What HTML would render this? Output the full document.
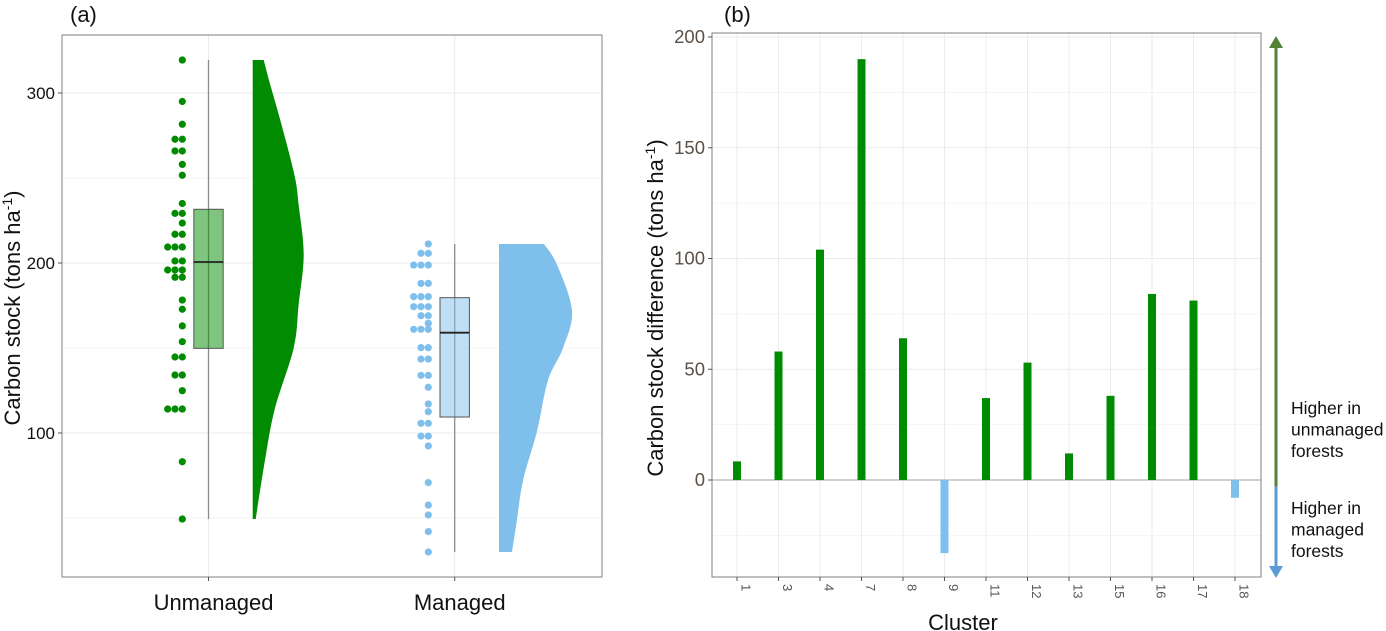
<!DOCTYPE html>
<html><head><meta charset="utf-8"><style>
body{margin:0;background:#fff;}
svg{display:block;font-family:"Liberation Sans",Arial,sans-serif;}
</style></head><body>
<svg id="c" width="1386" height="631" viewBox="0 0 1386 631"></svg>
<script>
// ---------- Panel (a) data ----------
const catsA = ["Unmanaged","Managed"];
const greenDotVals = [319.4,295,281.6,272.8,265.9,258,251.6,235,229.2,223.5,216.9,209.4,201.2,195.9,191.6,178.2,172.8,163,153.7,144.7,134.1,124.9,114.1,83.1,49.4];
const greenDotCounts = [1,1,1,2,2,1,1,1,2,1,2,3,2,3,2,1,1,1,1,2,2,1,3,1,1];
const blueDotVals = [211.2,205.7,198.8,188,180.2,174.3,169,164.5,161,150.2,143.5,133.9,126.9,117.1,112.5,105.7,98.2,92.4,70.8,57.6,51.8,42,30];
const blueDotCounts = [1,2,3,2,3,3,2,1,3,2,2,2,1,1,1,2,2,1,1,1,1,1,1];
const greenBox = [49.4,149.8,200.6,231.6,319.4]; // min,q1,med,q3,max
const blueBox = [30,109.4,159,179.6,211.2];
const greenDensV = [49.4,83,114,150,176,205,234,251,281,306,319.4];
const greenDensW = [3,12,22,41,46,51,46,42,29,17,11];
const blueDensV = [30,49,72,101,131,150,172,199,211.2];
const blueDensW = [13,18,24,38,49,64,73,58,45];
const ticksA = [100,200,300];
// ---------- Panel (b) data ----------
const clusters = ["1","3","4","7","8","9","11","12","13","15","16","17","18"];
const diffs = [8.4,58,104,190,64,-33,37,53,12,38,84,81,-8];
const ticksB = [0,50,100,150,200];

const NS="http://www.w3.org/2000/svg";
const svg=document.getElementById('c');
function el(tag,attrs,parent){const e=document.createElementNS(NS,tag);for(const k in attrs)e.setAttribute(k,attrs[k]);(parent||svg).appendChild(e);return e;}

// ===== Panel A =====
const A={x0:62,x1:602,y0:35,y1:577};
const yA=v=>263-(v-200)*1.7;
const xA=i=>[208.5,454.7][i];
const gA=el('g',{});


for(let v=50;v<=300;v+=50){const l=el('line',{x1:A.x0,x2:A.x1,y1:yA(v),y2:yA(v),stroke:v%100===0?'#ebebeb':'#f3f3f3','stroke-width':v%100===0?1:0.7},gA);}
for(let i=0;i<2;i++){const l=el('line',{x1:xA(i),x2:xA(i),y1:A.y0,y2:A.y1,stroke:'#ebebeb'},gA);}
function dots(vals,counts,xr,col,name){
 vals.forEach((v,i)=>{for(let k=0;k<counts[i];k++){const c=el('circle',{cx:xr-k*7.3,cy:yA(v),r:3.6,fill:col},gA);}});
}
dots(greenDotVals,greenDotCounts,182.3,'#008b00','green-dot');
dots(blueDotVals,blueDotCounts,428.3,'#7fbfec','blue-dot');
function box(b,cx,fill,name){
 const wl=el('line',{x1:cx,x2:cx,y1:yA(b[4]),y2:yA(b[0]),stroke:'#8c8c8c','stroke-width':1.3},gA);
 const r=el('rect',{x:cx-14.7,y:yA(b[3]),width:29.4,height:yA(b[1])-yA(b[3]),fill:fill,stroke:'#555','stroke-width':1},gA);
 const m=el('line',{x1:cx-14.7,x2:cx+14.7,y1:yA(b[2]),y2:yA(b[2]),stroke:'#222','stroke-width':1.8},gA);
}
box(greenBox,xA(0),'rgba(0,139,0,0.5)','unmanaged');
box(blueBox,xA(1),'rgba(127,191,236,0.5)','managed');
function violin(vs,ws,xl,col,name){
 const pts=vs.map((v,i)=>[xl+ws[i],yA(v)]);
 let d='M'+xl+','+pts[0][1]+' L'+pts[0][0]+','+pts[0][1];
 for(let i=0;i<pts.length-1;i++){
  const p0=pts[Math.max(0,i-1)],p1=pts[i],p2=pts[i+1],p3=pts[Math.min(pts.length-1,i+2)];
  const c1=[p1[0]+(p2[0]-p0[0])/6,p1[1]+(p2[1]-p0[1])/6];
  const c2=[p2[0]-(p3[0]-p1[0])/6,p2[1]-(p3[1]-p1[1])/6];
  d+=' C'+c1[0]+','+c1[1]+' '+c2[0]+','+c2[1]+' '+p2[0]+','+p2[1];
 }
 d+=' L'+xl+','+pts[pts.length-1][1]+' Z';
 const p=el('path',{d:d,fill:col},gA);
}
violin(greenDensV,greenDensW,252.7,'#008b00','unmanaged-density');
violin(blueDensV,blueDensW,499,'#7fbfec','managed-density');
const fa=el('rect',{x:A.x0,y:A.y0,width:A.x1-A.x0,height:A.y1-A.y0,fill:'none',stroke:'#7f7f7f','stroke-width':1},gA);
ticksA.forEach(v=>{el('line',{x1:A.x0-4,x2:A.x0,y1:yA(v),y2:yA(v),stroke:'#555'},gA);const t=el('text',{x:A.x0-7,y:yA(v)+6,'text-anchor':'end','font-size':17,fill:'#111'},gA);t.textContent=v;});
catsA.forEach((c,i)=>{el('line',{x1:xA(i),x2:xA(i),y1:A.y1,y2:A.y1+4,stroke:'#555'},gA);const t=el('text',{x:xA(i)+5,y:610,'text-anchor':'middle','font-size':22,fill:'#111'},gA);t.textContent=c;});

const tA=el('text',{x:70,y:22,'font-size':22,fill:'#111'});tA.textContent='(a)';


const ytA=el('text',{transform:'translate(20,308) rotate(-90)','text-anchor':'middle','font-size':22,fill:'#111'});
ytA.innerHTML='Carbon stock (tons ha<tspan dy="-8" font-size="14">-1</tspan><tspan dy="8">)</tspan>';



// ===== Panel B =====
const B={x0:712,x1:1261,y0:33,y1:577};
const yB=v=>480-v*2.215;
const xB=i=>737+i*41.5;
const gB=el('g',{});


for(let v=-25;v<=200;v+=25){const l=el('line',{x1:B.x0,x2:B.x1,y1:yB(v),y2:yB(v),stroke:v%50===0?'#ebebeb':'#f3f3f3','stroke-width':v%50===0?1:0.7},gB);}
clusters.forEach((c,i)=>{const l=el('line',{x1:xB(i),x2:xB(i),y1:B.y0,y2:B.y1,stroke:'#ebebeb'},gB);});
const zl=el('line',{x1:B.x0,x2:B.x1,y1:yB(0),y2:yB(0),stroke:'#b3b3b3','stroke-width':1.3},gB);


diffs.forEach((v,i)=>{const r=el('rect',{x:xB(i)-4,y:Math.min(yB(v),yB(0)),width:8,height:Math.abs(yB(v)-yB(0)),fill:v>=0?'#008b00':'#7fbfec'},gB);});
const fb=el('rect',{x:B.x0,y:B.y0,width:B.x1-B.x0,height:B.y1-B.y0,fill:'none',stroke:'#7f7f7f'},gB);


ticksB.forEach(v=>{el('line',{x1:B.x0-4,x2:B.x0,y1:yB(v),y2:yB(v),stroke:'#555'},gB);const t=el('text',{x:B.x0-7,y:yB(v)+6,'text-anchor':'end','font-size':18.5,fill:'#5a5047'},gB);t.textContent=v;});
clusters.forEach((c,i)=>{el('line',{x1:xB(i),x2:xB(i),y1:B.y1,y2:B.y1+4,stroke:'#555'},gB);const t=el('text',{transform:`translate(${xB(i)+4.5},584) rotate(90)`,'text-anchor':'start','font-size':13,fill:'#555'},gB);t.textContent=c;});
const tB=el('text',{x:724,y:22,'font-size':22,fill:'#111'});tB.textContent='(b)';


const xtB=el('text',{x:963,y:630,'text-anchor':'middle','font-size':22,fill:'#111'});xtB.textContent='Cluster';


const ytB=el('text',{transform:'translate(663,308) rotate(-90)','text-anchor':'middle','font-size':22,fill:'#111'});
ytB.innerHTML='Carbon stock difference (tons ha<tspan dy="-8" font-size="14">-1</tspan><tspan dy="8">)</tspan>';


// arrow
const ag=el('line',{x1:1276,x2:1276,y1:48,y2:yB(-3),stroke:'#548235','stroke-width':3});


el('polygon',{points:'1269,48 1283,48 1276,36',fill:'#548235'});
const ab=el('line',{x1:1276,x2:1276,y1:yB(-3),y2:566,stroke:'#5b9bd5','stroke-width':3});


el('polygon',{points:'1269,566 1283,566 1276,578',fill:'#5b9bd5'});
function lines(arr,y0,name){const t=el('text',{'font-size':17.5,fill:'#111'});arr.forEach((s,i)=>{const sp=el('tspan',{x:1291,y:y0+i*21.5},t);sp.textContent=s;});}
lines(['Higher in','unmanaged','forests'],414,'label-higher-unmanaged');
lines(['Higher in','managed','forests'],514,'label-higher-managed');
</script>
</body></html>
